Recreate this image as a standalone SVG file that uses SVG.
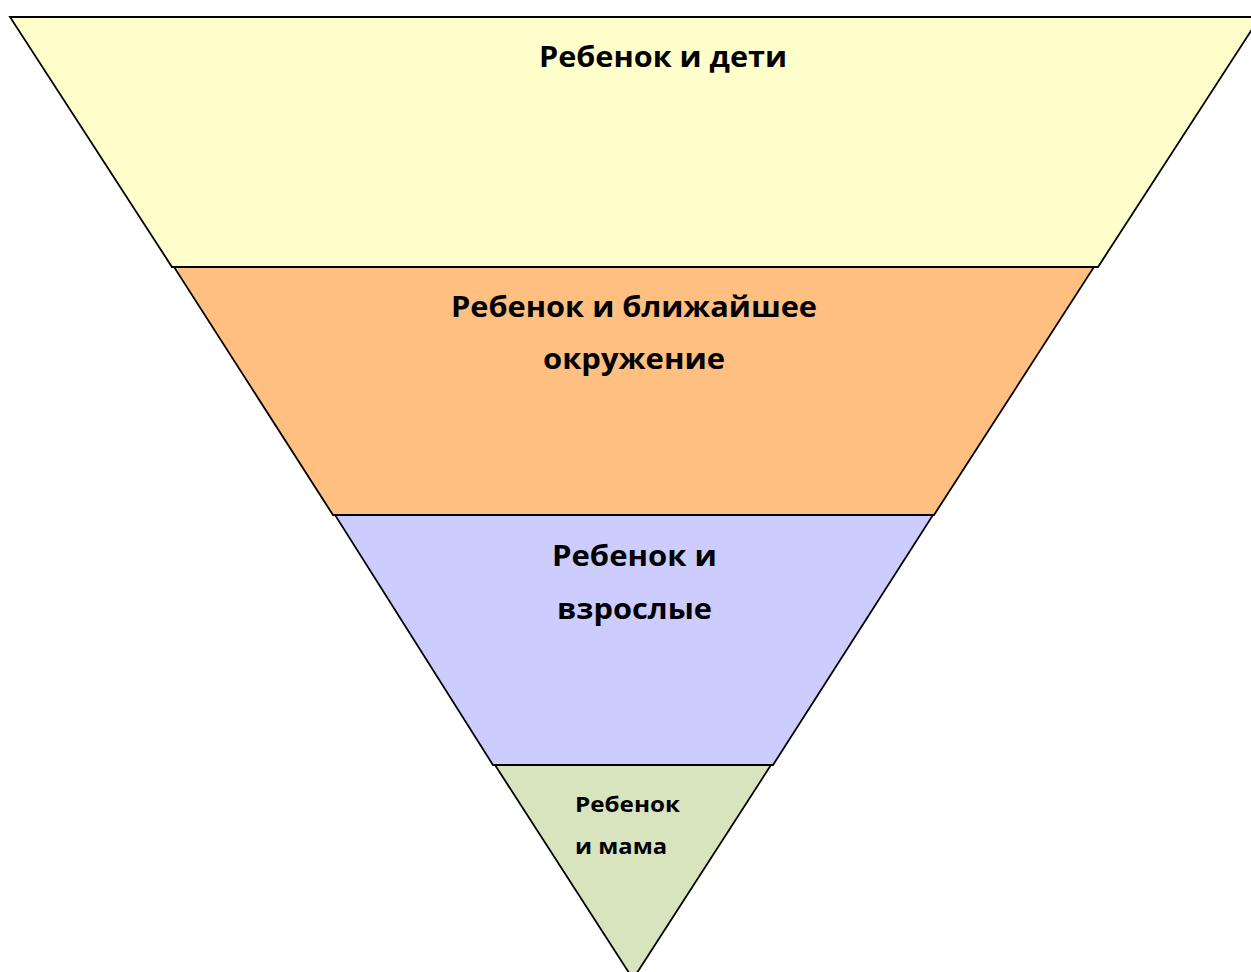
<svg xmlns="http://www.w3.org/2000/svg" width="1251" height="972" viewBox="0 0 1251 972">
<style>
.band{stroke:#000;stroke-width:1.8;stroke-linejoin:miter}
.t{font-family:"Open Sans","DejaVu Sans",sans-serif;font-weight:bold;fill:#000;font-size:28px}
.c{text-anchor:middle}
.s{font-size:21px}
</style>
<rect width="1251" height="972" fill="#fff"/>
<g id="band1">
<polygon class="band" fill="#FFFFCC" points="10,17 1260,17 1098,267 172,267"/>
<text class="t c" x="663" y="67" textLength="248" lengthAdjust="spacingAndGlyphs">Ребенок и дети</text>
</g>
<g id="band2">
<polygon class="band" fill="#FFBF80" points="174,267 1094,267 934,515 333,515"/>
<text class="t c" x="634" y="317" textLength="366" lengthAdjust="spacingAndGlyphs">Ребенок и ближайшее</text>
<text class="t c" x="634" y="369" textLength="182" lengthAdjust="spacingAndGlyphs">окружение</text>
</g>
<g id="band3">
<polygon class="band" fill="#CCCCFF" points="335,515 933,515 773,765 493,765"/>
<text class="t c" x="634.5" y="566" textLength="165" lengthAdjust="spacingAndGlyphs">Ребенок и</text>
<text class="t c" x="634.5" y="619" textLength="155" lengthAdjust="spacingAndGlyphs">взрослые</text>
</g>
<g id="band4">
<polygon class="band" fill="#D7E4BD" points="495,765 771,765 633,979"/>
<text class="t s" x="575" y="812" textLength="105" lengthAdjust="spacingAndGlyphs">Ребенок</text>
<text class="t s" x="575" y="854" textLength="92" lengthAdjust="spacingAndGlyphs">и мама</text>
</g>
<g id="connectors"/>
</svg>
